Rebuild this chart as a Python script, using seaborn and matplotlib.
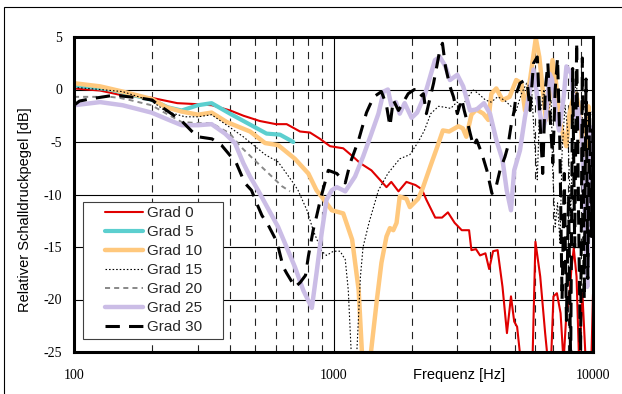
import numpy as np
import pandas as pd
import matplotlib
matplotlib.use("Agg")
import matplotlib.pyplot as plt
import seaborn as sns
from matplotlib.lines import Line2D
from matplotlib.legend_handler import HandlerLine2D
from matplotlib.patches import Rectangle
from matplotlib.ticker import FixedLocator, NullFormatter

# --- data (frequency in Hz, level in dB) ---
f_grad0 = [100, 126, 150, 200, 250, 300, 340, 400, 450, 520, 600, 660, 743, 812, 887,
           970, 1090, 1190, 1265, 1400, 1510, 1600, 1670, 1780, 1910, 2070, 2190, 2280,
           2466, 2620, 2760, 2930, 3120, 3330, 3400, 3540, 3670, 3850, 3980, 4120, 4290,
           4480, 4660, 4830, 4970, 5100, 5300, 5600, 5850, 6000, 6260, 6540, 6740, 6900,
           7040, 7260, 7500, 7700, 7910, 8090, 8250, 8430, 8640, 8840, 9100, 9380, 9700,
           9850, 10000]
db_grad0 = [0.1, -0.1, -0.5, -0.8, -1.3, -1.4, -1.5, -2.0, -2.5, -3.0, -3.3, -3.3, -4.0,
            -4.1, -4.7, -5.4, -5.6, -6.4, -7.0, -7.7, -8.6, -9.3, -8.8, -9.7, -8.8, -9.1,
            -9.5, -10.5, -12.2, -12.2, -11.7, -12.7, -13.4, -13.4, -15.3, -15.2, -15.8,
            -15.6, -17.1, -15.4, -15.3, -18.8, -23.2, -19.7, -22.1, -22.6, -26.5, -27.0,
            -25.5, -14.5, -17.8, -23.2, -26.5, -25.5, -19.7, -19.4, -21.3, -26.0, -21.0,
            -20.0, -17.2, -15.1, -17.8, -26.0, -19.4, -26.0, -27.0, -26.0, -19.5]

f_grad5 = [100, 138, 180, 200, 230, 260, 300, 339, 399, 490, 552, 622, 700]
db_grad5 = [0.4, 0.0, -0.7, -1.0, -1.7, -2.0, -1.5, -1.3, -2.3, -3.5, -4.2, -4.3, -5.0]

f_grad10 = [100, 126, 154, 199, 227, 260, 301, 339, 388, 477, 545, 612, 710, 800, 860,
            900, 985, 1090, 1180, 1250, 1290, 1330, 1380, 1470, 1530, 1600, 1650, 1700,
            1750, 1800, 1910, 1970, 2120, 2200, 2370, 2500, 2640, 2790, 3030, 3150, 3250,
            3400, 3550, 3780, 3950, 4060, 4240, 4480, 4770, 5060, 5300, 5470, 5740, 6020,
            6210, 6400, 6590, 6800, 6980, 7190, 7410, 7600, 7890, 8120, 8400, 8620, 8900,
            9160, 9430, 9600, 9750, 9900, 10000]
db_grad10 = [0.6, 0.3, -0.2, -0.9, -1.7, -2.1, -2.4, -2.2, -3.1, -4.0, -5.1, -5.3, -6.6,
             -8.0, -9.6, -10.2, -11.5, -11.8, -14.3, -19.1, -25.5, -28.0, -26.0, -20.0,
             -16.5, -14.0, -13.2, -13.4, -12.7, -10.2, -10.4, -11.2, -10.4, -9.5, -7.2,
             -5.6, -3.9, -4.0, -3.5, -3.7, -4.5, -2.4, -1.9, -2.3, -2.9, -0.4, 0.1, -1.0,
             -0.7, 0.9, 0.6, -2.0, 1.2, 4.9, 3.1, 0.0, -2.9, -0.7, 2.8, 0.9, -2.9, -3.9,
             -5.4, -2.3, -0.7, -0.4, -2.3, -6.4, -3.9, -1.6, -10.0, -4.0, -4.2]

f_grad15 = [100, 126, 154, 199, 227, 268, 301, 339, 388, 449, 545, 612, 700, 730, 790,
            835, 900, 940, 1000, 1060, 1110, 1140, 1170, 1200, 1230, 1270, 1300, 1370,
            1490, 1620, 1800, 1970, 2120, 2240, 2370, 2540, 2700, 2830, 2990, 3150, 3300,
            3460, 3620, 3850, 4050, 4290, 4550, 4830, 5060, 5300, 5550, 5800, 5950, 6100,
            6200, 6470, 6650, 6900, 7000, 7150, 7300, 7460, 7600, 7800, 8000, 8200, 8400,
            8600, 8800, 9000, 9200, 9500, 10000]
db_grad15 = [0.2, 0.0, -0.2, -1.1, -2.1, -2.6, -2.6, -2.4, -3.4, -4.5, -6.2, -6.9, -8.9,
             -9.6, -11.5, -13.4, -15.4, -15.8, -15.4, -15.4, -16.2, -19.1, -25.0, -27.0,
             -25.0, -17.8, -15.0, -12.7, -9.6, -8.0, -6.6, -6.2, -5.0, -3.9, -2.3, -1.6,
             -1.7, -1.8, -1.2, -1.5, -0.7, -0.05, -0.4, -1.0, -1.2, -0.7, -1.0, -1.6, -2.0,
             -0.4, 0.6, 0.0, -4.8, -8.6, -3.2, 0.0, -2.3, -1.0, -8.0, -13.1, -10.8, -14.6,
             -6.0, -1.5, -4.0, -12.0, -3.0, 1.0, -2.0, -4.0, -1.0, -3.0, -2.0]

f_grad20 = [100, 138, 150, 164, 199, 227, 260, 301, 339, 399, 437, 490, 585, 632, 680]
db_grad20 = [-0.7, -0.7, -0.8, -1.0, -1.5, -2.3, -3.1, -3.2, -3.2, -4.2, -5.4, -6.6, -8.4,
             -9.2, -9.7]

f_grad25 = [100, 126, 154, 199, 227, 260, 301, 339, 382, 417, 449, 477, 512, 612, 710,
            764, 825, 860, 900, 940, 985, 1030, 1110, 1210, 1300, 1400, 1490, 1560, 1620,
            1670, 1740, 1800, 1880, 2000, 2100, 2250, 2460, 2570, 2700, 2810, 3000, 3160,
            3360, 3560, 3800, 4010, 4240, 4480, 4650, 4830, 4970, 5230, 5470, 5720, 5900,
            6100, 6400, 6590, 6800, 6950, 7190, 7400, 7710, 7900, 8250, 8500, 8700, 9050,
            9300, 9500, 9650, 9800, 10000]
db_grad25 = [-1.5, -1.2, -1.5, -2.2, -2.8, -3.4, -3.4, -3.3, -4.2, -5.1, -7.0, -8.3, -9.6,
             -13.1, -16.9, -19.1, -20.8, -17.5, -13.7, -10.5, -9.6, -9.3, -9.7, -8.3, -6.4,
             -4.2, -2.3, -0.2, 0.0, -1.5, -1.2, -2.3, -1.3, -2.7, -2.2, -0.5, 2.8, 3.1,
             2.2, 0.9, 1.4, 0.3, -2.0, -1.9, -1.3, -2.3, -4.8, -6.7, -9.6, -11.5, -7.7,
             -5.8, -2.6, 0.0, 1.9, -0.7, -3.9, -2.6, 1.5, 1.0, -2.2, -3.9, -0.7, 2.2, 1.5,
             -2.6, -1.6, -3.9, -12.0, -18.8, -10.0, -3.6, -8.0]

f_grad30 = [100, 105, 115, 138, 150, 178, 200, 215, 225, 260, 285, 300, 340, 370, 400,
            422, 455, 483, 505, 530, 560, 605, 640, 660, 710, 743, 780, 800, 835, 860,
            890, 910, 955, 1030, 1110, 1160, 1250, 1280, 1340, 1380, 1430, 1530, 1600,
            1650, 1700, 1780, 1940, 2050, 2150, 2220, 2280, 2430, 2500, 2570, 2630, 2700,
            2810, 2900, 3000, 3120, 3190, 3310, 3460, 3560, 3730, 3900, 4080, 4200, 4380,
            4580, 4700, 4830, 4970, 5060, 5230, 5470, 5600, 5720, 5900, 6100, 6250, 6400,
            6550, 6700, 6850, 7000, 7150, 7300, 7450, 7600, 7750, 7900, 8050, 8200, 8350,
            8500, 8650, 8800, 8950, 9100, 9250, 9400, 9550, 9700, 9850, 10000]
db_grad30 = [-1.5, -1.1, -0.9, -0.6, -0.6, -0.8, -1.0, -1.6, -1.9, -3.0, -4.0, -4.5, -4.7,
             -5.3, -6.3, -7.0, -8.9, -9.6, -10.8, -12.0, -12.9, -14.5, -16.9, -17.5, -18.8,
             -18.4, -17.7, -15.9, -13.4, -12.1, -10.5, -9.6, -7.7, -8.0, -8.9, -7.0, -4.8,
             -3.9, -2.2, -1.5, -0.7, -0.2, -1.5, -3.5, -1.0, -2.0, -0.4, 0.0, -0.7, -0.4,
             -2.3, 0.6, 2.2, 3.8, 4.4, 2.2, 0.3, -0.7, -2.3, -0.9, -2.0, -3.5, -5.4, -4.8,
             -6.1, -7.7, -9.9, -9.6, -7.7, -6.4, -5.4, -3.5, -2.0, -0.4, 0.6, 0.9, 0.3,
             -2.0, 2.5, 3.1, -3.0, -8.0, 0.0, 2.5, -3.0, -7.0, 0.0, 3.0, -5.0, -20.0, -8.0,
             -22.0, -10.0, -26.0, 2.0, -15.0, 4.5, -12.0, -26.0, 3.0, -20.0, 1.0, -18.0,
             -2.0, -14.0, -3.0]

labels = ["Grad 0", "Grad 5", "Grad 10", "Grad 15", "Grad 20", "Grad 25", "Grad 30"]
series = [(f_grad0, db_grad0), (f_grad5, db_grad5), (f_grad10, db_grad10),
          (f_grad15, db_grad15), (f_grad20, db_grad20), (f_grad25, db_grad25),
          (f_grad30, db_grad30)]
styles = [
    dict(color="#E00000", lw=1.5, ls="-"),
    dict(color="#5CCFCF", lw=3.0, ls="-"),
    dict(color="#FFC87D", lw=3.2, ls="-"),
    dict(color="black", lw=0.8, ls=(0, (1.4, 1.8))),
    dict(color="#888888", lw=1.4, ls=(0, (2.6, 2.1))),
    dict(color="#CBBDE6", lw=3.2, ls="-"),
    dict(color="black", lw=2.2, ls=(0, (4.7, 3.0))),
]


class OffsetLine(HandlerLine2D):
    # legend sample starts a bit to the right, like the original legend
    def get_xdata(self, legend, xdescent, ydescent, width, height, fontsize):
        x = np.linspace(-xdescent + 17.4 / 1.389, -xdescent + width, 2)
        return x, x


sns.set_theme(style="white")
plt.rcParams["font.family"] = ["Liberation Sans", "DejaVu Sans"]

fig = plt.figure(figsize=(6.22, 3.94), dpi=100)
ax = fig.add_axes([74 / 622, 1 - 352 / 394, (593 - 74) / 622, (352 - 37) / 394])

for (f, db), lab, st in zip(series, labels, styles):
    df = pd.DataFrame({"freq": f, "level": db})
    sns.lineplot(data=df, x="freq", y="level", ax=ax, estimator=None, sort=False,
                 label=lab, **st)

ax.set_xscale("log")
ax.set_xlim(100, 10000)
ax.set_ylim(-25, 5)

ax.xaxis.set_major_locator(FixedLocator([100, 1000, 10000]))
ax.xaxis.set_minor_locator(FixedLocator([200, 300, 400, 500, 600, 700, 800, 900,
                                         2000, 3000, 4000, 5000, 6000, 7000, 8000, 9000]))
ax.xaxis.set_minor_formatter(NullFormatter())
ax.set_xticklabels(["100", "1000", "10000"])
ax.set_yticks([-25, -20, -15, -10, -5, 0, 5])
ax.set_yticklabels(["-25", "-20", "-15", "-10", "-5", "0", "5"])

ax.set_axisbelow(True)
ax.grid(True, which="major", axis="both", color="black", lw=0.8, ls="-")
ax.grid(True, which="minor", axis="x", color="#222222", lw=0.8, ls=(0, (6.5, 5.5)))

ax.tick_params(axis="both", which="both", length=0)
ax.tick_params(axis="y", pad=8.5)
ax.tick_params(axis="x", pad=12)
for t in ax.get_xticklabels() + ax.get_yticklabels():
    t.set_fontfamily("Liberation Serif")
    t.set_fontsize(10)
    t.set_color("black")

for sp in ax.spines.values():
    sp.set_visible(True)
    sp.set_color("black")
    sp.set_linewidth(2.2)

ax.set_xlabel("Frequenz [Hz]", fontsize=10.5, color="black")
ax.set_ylabel("Relativer Schalldruckpegel [dB]", fontsize=10.5, color="black")
ax.xaxis.set_label_coords(0.742, -0.052)
ax.yaxis.set_label_coords(-0.081, 0.451)

handles = ax.get_lines()[:len(labels)]
leg = ax.legend(handles, labels, loc="lower left",
                bbox_to_anchor=(9 / 519, 13 / 315, 140 / 519, 0.4), mode="expand",
                borderaxespad=0, borderpad=0.30, labelspacing=0.33, handlelength=3.63,
                handletextpad=0.26, fontsize=11, frameon=True, fancybox=False,
                handler_map={Line2D: OffsetLine()})
leg.get_frame().set_edgecolor("#404040")
leg.get_frame().set_linewidth(0.8)
leg.get_frame().set_facecolor("white")
leg.get_frame().set_alpha(1)

# thin outer frame of the chart area
fig.patches.append(Rectangle((4 / 622, -0.1), 1.2, 1.1 - 7 / 394, transform=fig.transFigure,
                             fill=False, edgecolor="black", lw=0.8, clip_on=False))

fig.savefig("out.png", dpi=100, facecolor="white")
